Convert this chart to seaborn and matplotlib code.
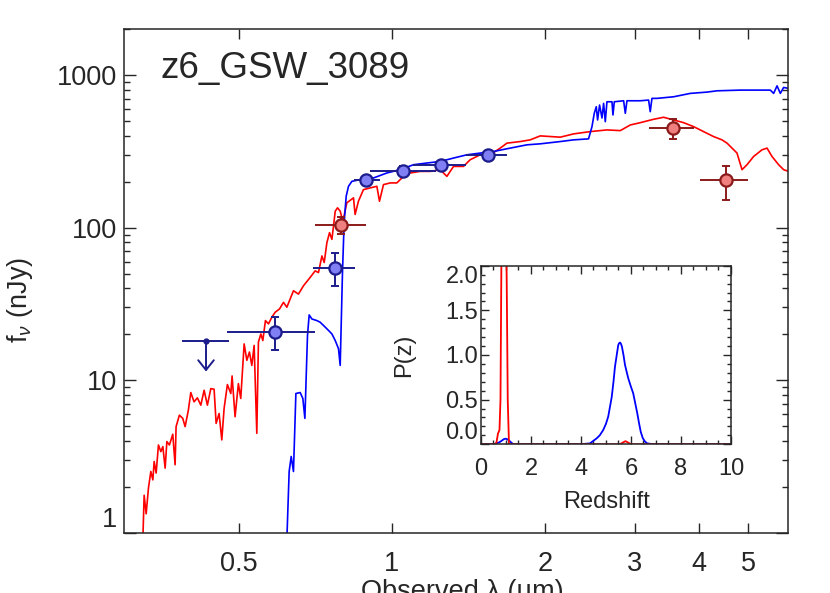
import matplotlib
matplotlib.use("Agg")
import matplotlib.pyplot as plt
import seaborn as sns
from matplotlib.ticker import LogLocator, NullLocator, NullFormatter, MultipleLocator

# best-fit SED, low-z solution (red)
red_wave = [0.3245, 0.3264, 0.3294, 0.3328, 0.3364, 0.3395, 0.3415, 0.3446, 0.3482, 0.3520,
            0.3552, 0.3589, 0.3617, 0.3659, 0.3715, 0.3754, 0.3771, 0.3828, 0.3886, 0.3928,
            0.3986, 0.4030, 0.4090, 0.4152, 0.4217, 0.4280, 0.4344, 0.4412, 0.4478, 0.4519,
            0.4580, 0.4636, 0.4685, 0.4755, 0.4829, 0.4857, 0.4923, 0.4997, 0.5051, 0.5129,
            0.5192, 0.5253, 0.5310, 0.5366, 0.5431, 0.5471, 0.5531, 0.5581, 0.5647, 0.5725,
            0.5814, 0.5901, 0.6017, 0.6127, 0.6221, 0.6315, 0.6410, 0.6556, 0.6706, 0.6912,
            0.7070, 0.7177, 0.7289, 0.7365, 0.7455, 0.7544, 0.7626, 0.7681, 0.7741, 0.7822,
            0.7917, 0.8013, 0.8158, 0.8407, 0.8469, 0.8597, 0.8794, 0.9066, 0.9344, 0.9455,
            0.9627, 0.9924, 1.0228, 1.0462, 1.0862, 1.1365, 1.1891, 1.2440, 1.2823, 1.3213,
            1.3819, 1.4245, 1.4907, 1.5596, 1.6318, 1.6819, 1.7861, 1.8688, 1.9553, 2.1407,
            2.2733, 2.4508, 2.6432, 2.8074, 2.9379, 3.0736, 3.2636, 3.4149, 3.5726, 3.7376,
            3.9105, 4.0910, 4.2802, 4.4455, 4.5478, 4.6517, 4.7580, 4.8667, 4.9779, 5.1286,
            5.3272, 5.4489, 5.5734, 5.7426, 5.8737, 6.0078]
red_flux = [0.9, 1.76, 1.33, 1.96, 2.52, 2.22, 2.93, 2.46, 3.76, 3.40,
            3.67, 2.65, 3.96, 3.76, 4.42, 2.79, 4.96, 5.90, 5.62, 4.96,
            6.36, 8.30, 7.22, 7.66, 6.86, 8.59, 6.86, 8.81, 8.72, 5.21,
            6.05, 4.06, 6.53, 9.36, 8.18, 10.66, 5.76, 9.50, 7.59, 17.3,
            13.5, 15.3, 12.5, 16.9, 4.48, 17.8, 20.1, 18.2, 24.6, 23.4,
            25.9, 27.9, 29.3, 32.4, 30.1, 34.1, 38.6, 36.7, 41.6, 47.2,
            52.1, 50.8, 65.3, 59.1, 79.8, 92.8, 83.9, 102.4, 128.3, 135.0,
            128.3, 109.9, 145.6, 156.9, 122.1, 149.1, 177.7, 182.4, 186.8, 149.1,
            191.6, 196.6, 196.6, 211.9, 228.5, 234.0, 234.0, 240.1, 217.1, 252.3,
            252.3, 279.0, 300.7, 300.7, 332.6, 358.5, 367.2, 376.7, 400.0, 392.3,
            412.2, 426.7, 437.7, 433.2, 471.8, 488.4, 514.0, 529.8, 508.7, 488.4,
            460.0, 426.7, 395.9, 376.7, 358.5, 332.6, 308.5, 240.1, 258.8, 293.1,
            324.2, 332.6, 293.1, 258.8, 240.1, 234.0]

# best-fit SED, z~6 solution (blue)
blue_wave = [0.6221, 0.6286, 0.6344, 0.6410, 0.6480, 0.6607, 0.6687, 0.6749, 0.6829, 0.6881,
             0.6966, 0.7124, 0.7231, 0.7397, 0.7509, 0.7626, 0.7741, 0.7856, 0.7917, 0.7999,
             0.8059, 0.8134, 0.8219, 0.8346, 0.8665, 0.9202, 0.9777, 1.0382, 1.1025, 1.1713,
             1.2440, 1.3213, 1.4037, 1.4907, 1.5830, 1.7074, 1.8413, 1.9553, 2.1407, 2.2733,
             2.4322, 2.4703, 2.4961, 2.5186, 2.5337, 2.5566, 2.5845, 2.6036, 2.6235, 2.6432,
             2.7040, 2.7161, 2.7324, 2.8502, 2.8717, 2.8936, 3.0736, 3.1907, 3.2144, 3.2393,
             3.3134, 3.5726, 3.8526, 4.1540, 4.3456, 4.8295, 5.5314, 5.6146, 5.7016, 5.7866,
             5.8737, 6.0078]
blue_flux = [0.9, 2.52, 3.16, 2.52, 8.18, 8.30, 7.59, 5.62, 19.6, 26.8,
             25.2, 24.6, 24.0, 22.3, 21.2, 20.1, 18.2, 16.1, 12.5, 50.8,
             107.8, 160.7, 186.8, 201.4, 206.6, 211.9, 228.5, 240.1, 258.8, 265.5,
             271.9, 286.2, 300.7, 308.5, 316.0, 332.6, 349.5, 354.8, 367.2, 376.7,
             382.4, 460.0, 562.6, 621.1, 508.7, 637.2, 524.2, 653.7, 496.0, 669.6,
             669.6, 548.4, 669.6, 679.8, 562.6, 679.8, 679.8, 687.0, 576.4, 704.7,
             704.7, 722.0, 759.8, 774.8, 790.0, 798.4, 798.4, 759.8, 851.5, 759.8,
             831.4, 818.9]

# photometry matching the z~6 fit
blue_pt_wave = [0.590, 0.775, 0.889, 1.051, 1.248, 1.543]
blue_pt_flux = [20.8, 54.8, 204.4, 236.5, 258.8, 300.7]
blue_pt_flux_lo = [15.7, 41.2, 193.0, 217.4, 245.0, 287.0]
blue_pt_flux_hi = [26.1, 67.9, 216.0, 254.6, 273.0, 315.0]
blue_pt_wave_lo = [0.4755, 0.6995, 0.841, 0.906, 1.10, 1.40]
blue_pt_wave_hi = [0.705, 0.848, 0.948, 1.22, 1.40, 1.68]

# photometry flagged red
red_pt_wave = [0.795, 3.563, 4.527]
red_pt_flux = [104.6, 449.0, 204.4]
red_pt_flux_lo = [90.4, 382.0, 153.0]
red_pt_flux_hi = [118.0, 514.0, 252.0]
red_pt_wave_lo = [0.707, 3.19, 4.018]
red_pt_wave_hi = [0.889, 3.92, 5.01]

# upper limit
lim_wave = 0.4317
lim_flux = 18.2
lim_wave_lo = 0.3875
lim_wave_hi = 0.4786
lim_tip = 11.4

# redshift probability
pz_blue_z = [0, 0.5, 0.63, 0.75, 0.83, 0.92, 0.99, 1.06, 1.13, 1.29, 3.95, 4.36, 4.63, 4.75,
             4.89, 5.0, 5.09, 5.16, 5.23, 5.3, 5.36, 5.43, 5.49, 5.52, 5.56, 5.6, 5.64, 5.7,
             5.76, 5.82, 5.89, 5.98, 6.09, 6.17, 6.25, 6.32, 6.39, 6.47, 6.56, 6.65, 6.9, 10]
pz_blue = [0, 0, 0.01, 0.025, 0.04, 0.058, 0.063, 0.055, 0.04, 0, 0, 0.01, 0.067, 0.1,
           0.16, 0.23, 0.31, 0.42, 0.53, 0.7, 0.87, 1.0, 1.11, 1.13, 1.14, 1.125, 1.09, 1.0,
           0.89, 0.82, 0.74, 0.66, 0.57, 0.46, 0.35, 0.24, 0.14, 0.07, 0.03, 0.01, 0, 0]
pz_red_z = [0, 0.55, 0.62, 0.68, 0.74, 0.78, 0.82, 0.86, 0.92, 0.98, 1.03, 1.07, 1.12,
            5.55, 5.68, 5.78, 5.88, 6.0, 10]
pz_red = [0, 0, 0.02, 0.12, 0.16, 0.5, 2.2, 3.5, 4.0, 3.0, 1.8, 0.5, 0,
          0, 0.02, 0.035, 0.02, 0, 0]

sns.set_style("ticks")
plt.rcParams["font.family"] = ["Liberation Sans", "DejaVu Sans"]
plt.rcParams["mathtext.fontset"] = "custom"
plt.rcParams["mathtext.rm"] = "Liberation Sans"
plt.rcParams["mathtext.it"] = "Liberation Sans:italic"

navy = "#1c1c8c"
blue_fill = "#8080f4"
dred = "#8b1a1a"
red_fill = "#f08080"

fig = plt.figure(figsize=(8.3, 5.93), dpi=100)
ax = fig.add_axes([0.1494, 0.1017, 0.8004, 0.8489])

sns.lineplot(x=red_wave, y=red_flux, ax=ax, color="red", lw=1.2, sort=False, estimator=None)
sns.lineplot(x=blue_wave, y=blue_flux, ax=ax, color="blue", lw=1.2, sort=False, estimator=None)

for wv, fl, flo, fhi, wlo, whi, ec, fc in [
        (blue_pt_wave, blue_pt_flux, blue_pt_flux_lo, blue_pt_flux_hi, blue_pt_wave_lo, blue_pt_wave_hi, navy, blue_fill),
        (red_pt_wave, red_pt_flux, red_pt_flux_lo, red_pt_flux_hi, red_pt_wave_lo, red_pt_wave_hi, dred, red_fill)]:
    yerr = [[f - l for f, l in zip(fl, flo)], [h - f for f, h in zip(fl, fhi)]]
    xerr = [[w - l for w, l in zip(wv, wlo)], [h - w for w, h in zip(wv, whi)]]
    ax.errorbar(wv, fl, yerr=yerr, fmt="none", ecolor=ec, elinewidth=1.4, capsize=2.8, capthick=1.4, zorder=3)
    ax.errorbar(wv, fl, xerr=xerr, fmt="none", ecolor=ec, elinewidth=1.4, capsize=0, zorder=3)
    sns.scatterplot(x=wv, y=fl, ax=ax, s=78, color=fc, edgecolor=ec, linewidth=1.6, zorder=5)

ax.errorbar([lim_wave], [lim_flux], xerr=[[lim_wave - lim_wave_lo], [lim_wave_hi - lim_wave]],
            fmt="o", ms=3.5, color=navy, elinewidth=1.4, capsize=0, zorder=3)
ax.annotate("", xy=(lim_wave, lim_tip), xytext=(lim_wave, lim_flux),
            arrowprops=dict(arrowstyle="->,head_length=0.5,head_width=0.4", color=navy, lw=1.4,
                            shrinkA=0, shrinkB=0, mutation_scale=14))

ax.set_xscale("log")
ax.set_yscale("log")
ax.set_xlim(0.298, 6.0)
ax.set_ylim(1, 2000)
ax.set_xticks([0.5, 1, 2, 3, 4, 5], labels=["0.5", "1", "2", "3", "4", "5"])
ax.xaxis.set_minor_locator(NullLocator())
ax.set_yticks([1, 10, 100, 1000], labels=["1", "10", "100", "1000"])
ax.yaxis.set_minor_locator(LogLocator(base=10, subs=range(2, 10)))
ax.yaxis.set_minor_formatter(NullFormatter())
ax.tick_params(which="both", direction="in", top=True, right=True, width=1.0, labelsize=19.5)
ax.tick_params(axis="x", which="major", length=7, pad=13)
ax.tick_params(axis="y", which="major", length=8.6, pad=5)
ax.tick_params(axis="y", which="minor", length=4.3)
ax.get_yticklabels()[0].set_va("bottom")
for s in ax.spines.values():
    s.set_linewidth(1.1)
ax.set_xlabel("")
ax.set_ylabel("")

ax.text(0.0542, 0.903, "z6_GSW_3089", transform=ax.transAxes, fontsize=26.5, va="baseline")
fig.text(0.0241, 0.494, r"f$_\nu$ (nJy)", rotation=90, ha="center", va="center", fontsize=19.5)
fig.text(462 / 830, -0.0101, "Observed λ (µm)", ha="center", va="baseline", fontsize=19.5)

# inset: redshift probability distribution
ins = fig.add_axes([0.5795, 0.2508, 0.3012, 0.3011])
sns.lineplot(x=pz_blue_z, y=pz_blue, ax=ins, color="blue", lw=1.3, sort=False, estimator=None)
sns.lineplot(x=pz_red_z, y=pz_red, ax=ins, color="red", lw=1.3, sort=False, estimator=None)
ins.set_xlim(0, 10)
ins.set_ylim(0, 2)
ins.set_xticks([0, 2, 4, 6, 8, 10], labels=["0", "2", "4", "6", "8", "10"])
ins.set_yticks([0, 0.5, 1, 1.5, 2], labels=["0.0", "0.5", "1.0", "1.5", "2.0"])
ins.xaxis.set_minor_locator(MultipleLocator(0.5))
ins.yaxis.set_minor_locator(MultipleLocator(0.1))
ins.tick_params(which="both", direction="in", top=True, right=True, width=1.0, labelsize=17)
ins.tick_params(which="major", length=5.5)
ins.tick_params(which="minor", length=2.8)
ins.tick_params(axis="x", pad=10)
ins.tick_params(axis="y", pad=2)
ylabs = ins.get_yticklabels()
ylabs[0].set_va("bottom")
ylabs[-1].set_va("top")
for s in ins.spines.values():
    s.set_linewidth(1.1)
ins.set_xlabel("Redshift", fontsize=17)
ins.set_ylabel("P(z)", fontsize=17)
ins.xaxis.set_label_coords(0.503, -0.26)
ins.yaxis.set_label_coords(-0.264, 0.5)

fig.savefig("out.png", dpi=100)
